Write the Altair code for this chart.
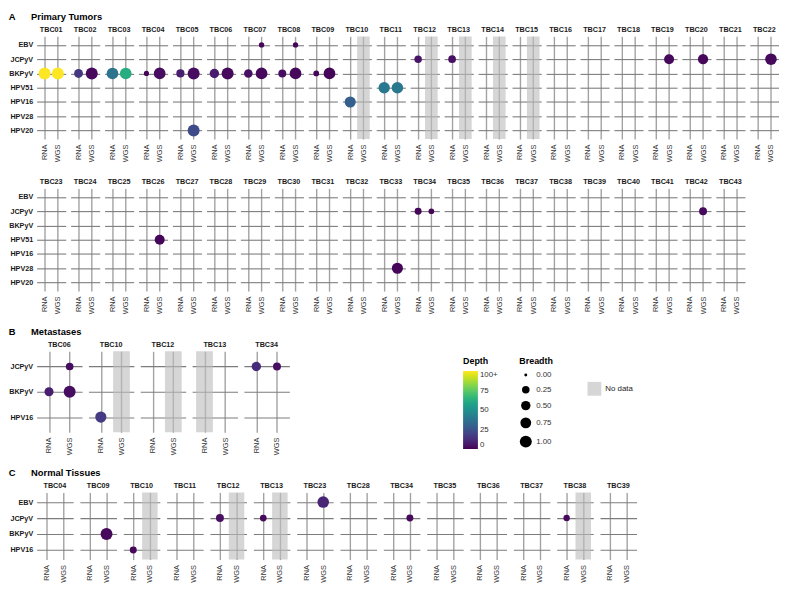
import altair as alt
import pandas as pd

FONT = "Liberation Sans"
NB = "\u00a0"

ASSAYS = ["RNA", "WGS"]
VIRUS_A = ["EBV", "JCPyV", "BKPyV", "HPV51", "HPV16", "HPV28", "HPV20"]
VIRUS_B = ["JCPyV", "BKPyV", "HPV16"]
VIRUS_C = ["EBV", "JCPyV", "BKPyV", "HPV16"]

PATIENTS_A1 = ["TBC01", "TBC02", "TBC03", "TBC04", "TBC05", "TBC06", "TBC07", "TBC08",
               "TBC09", "TBC10", "TBC11", "TBC12", "TBC13", "TBC14", "TBC15", "TBC16",
               "TBC17", "TBC18", "TBC19", "TBC20", "TBC21", "TBC22"]
PATIENTS_A2 = ["TBC23", "TBC24", "TBC25", "TBC26", "TBC27", "TBC28", "TBC29", "TBC30",
               "TBC31", "TBC32", "TBC33", "TBC34", "TBC35", "TBC36", "TBC37", "TBC38",
               "TBC39", "TBC40", "TBC41", "TBC42", "TBC43"]
PATIENTS_B = ["TBC06", "TBC10", "TBC12", "TBC13", "TBC34"]
PATIENTS_C = ["TBC04", "TBC09", "TBC10", "TBC11", "TBC12", "TBC13", "TBC23", "TBC28",
              "TBC34", "TBC35", "TBC36", "TBC37", "TBC38", "TBC39"]

# Section A: primary tumors
A_patient = ["TBC01", "TBC01", "TBC02", "TBC02", "TBC03", "TBC03", "TBC04", "TBC04",
             "TBC05", "TBC05", "TBC05", "TBC06", "TBC06", "TBC07", "TBC07", "TBC07",
             "TBC08", "TBC08", "TBC08", "TBC09", "TBC09", "TBC10", "TBC11", "TBC11",
             "TBC12", "TBC13", "TBC19", "TBC20", "TBC22", "TBC26", "TBC33", "TBC34",
             "TBC34", "TBC42"]
A_assay = ["RNA", "WGS", "RNA", "WGS", "RNA", "WGS", "RNA", "WGS",
           "RNA", "WGS", "WGS", "RNA", "WGS", "WGS", "RNA", "WGS",
           "WGS", "RNA", "WGS", "RNA", "WGS", "RNA", "RNA", "WGS",
           "RNA", "RNA", "WGS", "WGS", "WGS", "WGS", "WGS", "RNA",
           "WGS", "WGS"]
A_virus = ["BKPyV", "BKPyV", "BKPyV", "BKPyV", "BKPyV", "BKPyV", "BKPyV", "BKPyV",
           "BKPyV", "BKPyV", "HPV20", "BKPyV", "BKPyV", "EBV", "BKPyV", "BKPyV",
           "EBV", "BKPyV", "BKPyV", "BKPyV", "BKPyV", "HPV16", "HPV51", "HPV51",
           "JCPyV", "JCPyV", "JCPyV", "JCPyV", "JCPyV", "HPV51", "HPV28", "JCPyV",
           "JCPyV", "JCPyV"]
A_depth = [150, 150, 15, 2, 38, 62, 1, 3,
           8, 3, 22, 7, 2, 1, 4, 2,
           1, 3, 2, 1, 1, 30, 40, 40,
           5, 4, 2, 2, 2, 1, 1, 1,
           1, 2]
A_breadth = [1.0, 1.0, 0.42, 1.0, 0.92, 0.92, 0.07, 0.95,
             0.33, 1.0, 1.0, 0.5, 1.0, 0.08, 0.38, 0.95,
             0.08, 0.3, 0.95, 0.1, 0.95, 0.82, 0.87, 0.9,
             0.25, 0.27, 0.6, 0.65, 0.92, 0.6, 0.82, 0.2,
             0.1, 0.3]
A_nodata_patient = ["TBC10", "TBC12", "TBC13", "TBC14", "TBC15"]
A_nodata_assay = ["WGS", "WGS", "WGS", "WGS", "WGS"]

# Section B: metastases
B_patient = ["TBC06", "TBC06", "TBC06", "TBC10", "TBC34", "TBC34"]
B_assay = ["WGS", "RNA", "WGS", "RNA", "RNA", "WGS"]
B_virus = ["JCPyV", "BKPyV", "BKPyV", "HPV16", "JCPyV", "JCPyV"]
B_depth = [3, 8, 3, 17, 12, 3]
B_breadth = [0.27, 0.45, 1.0, 0.82, 0.5, 0.3]
B_nodata_patient = ["TBC10", "TBC12", "TBC13"]
B_nodata_assay = ["WGS", "WGS", "RNA"]

# Section C: normal tissues
C_patient = ["TBC09", "TBC10", "TBC12", "TBC13", "TBC23", "TBC34", "TBC38"]
C_assay = ["WGS", "RNA", "RNA", "RNA", "WGS", "WGS", "RNA"]
C_virus = ["BKPyV", "HPV16", "JCPyV", "JCPyV", "EBV", "JCPyV", "JCPyV"]
C_depth = [2, 2, 4, 2, 10, 2, 2]
C_breadth = [1.0, 0.2, 0.3, 0.18, 0.92, 0.2, 0.15]
C_nodata_patient = ["TBC10", "TBC12", "TBC13", "TBC38"]
C_nodata_assay = ["WGS", "WGS", "WGS", "WGS"]


def section(patients, viruses, pts, nds, w, h, spacing, tick_w, title=None):
    rows = [{"Patient": p, "kind": "blank"} for p in patients]
    for p, a, v, d, b in zip(*pts):
        if p in patients:
            rows.append({"Patient": p, "Assay": a, "Virus": v, "Depth": d,
                         "Breadth": b, "kind": "pt"})
    for p, a in zip(*nds):
        if p in patients:
            rows.append({"Patient": p, "Assay": a, "kind": "nd", "ND": "No data"})
    df = pd.DataFrame(rows)

    xenc = alt.X("Assay:N",
                 scale=alt.Scale(domain=ASSAYS, type="point", padding=0.6),
                 axis=alt.Axis(title=None, labelAngle=270, labelPadding=5,
                               labelFontSize=7.5, labelColor="#333333", labelFont=FONT,
                               ticks=False, domain=False, grid=True,
                               gridColor="#a2a2a2", gridWidth=1.4))
    yenc = alt.Y("Virus:N",
                 scale=alt.Scale(domain=viruses, type="point", padding=0.6),
                 axis=alt.Axis(title=None, labelPadding=4, labelFontSize=7.3,
                               labelFontWeight="bold", labelColor="#1a1a1a",
                               labelFont=FONT, ticks=False, domain=False, grid=True,
                               gridColor="#7c7c7c", gridWidth=1.1))

    nd = alt.Chart().transform_filter("datum.kind == 'nd'").mark_tick(
        orient="vertical", thickness=tick_w, size=h, color="#bdbdbd"
    ).encode(
        x=xenc,
        opacity=alt.Opacity("ND:N",
                            scale=alt.Scale(domain=["No data"], range=[0.62, 0.62]),
                            legend=alt.Legend(title=None, orient="none", legendX=558,
                                              legendY=350, symbolType="square",
                                              symbolSize=196, symbolStrokeWidth=0,
                                              symbolFillColor="#bdbdbd",
                                              labelFontSize=8, labelFont=FONT,
                                              labelColor="#222222")),
    )
    pt = alt.Chart().transform_filter("datum.kind == 'pt'").mark_circle(
        opacity=1, color="black"
    ).encode(
        x=xenc,
        y=yenc,
        color=alt.Color("Depth:Q",
                        scale=alt.Scale(scheme="viridis", domain=[0, 100], clamp=True),
                        legend=alt.Legend(title="Depth", orient="none", legendX=432,
                                          legendY=325, direction="vertical",
                                          gradientLength=79, gradientThickness=15,
                                          values=[0, 25, 50, 75, 100],
                                          labelExpr="datum.value >= 100 ? '100+' : datum.label",
                                          titleFontSize=9, titleFont=FONT,
                                          labelFontSize=8, labelFont=FONT,
                                          labelColor="#333333")),
        size=alt.Size("Breadth:Q",
                      scale=alt.Scale(type="pow", exponent=0.75, domain=[0, 1],
                                      range=[8.6, 147]),
                      legend=alt.Legend(title="Breadth", orient="none", legendX=489,
                                        legendY=325, values=[0, 0.25, 0.5, 0.75, 1],
                                        format=".2f", symbolFillColor="black",
                                        symbolStrokeWidth=0, titleFontSize=9,
                                        titleFont=FONT, labelFontSize=8,
                                        labelFont=FONT, labelColor="#333333",
                                        rowPadding=7)),
    )
    ch = alt.layer(nd, pt, data=df).properties(width=w, height=h).facet(
        column=alt.Column("Patient:N", sort=patients, title=None,
                          header=alt.Header(labelFontSize=7.3, labelFontWeight="bold",
                                            labelFont=FONT, labelColor="#1a1a1a",
                                            labelPadding=3)),
        spacing=spacing,
    )
    if title is not None:
        ch = ch.properties(title=alt.TitleParams(
            text=title, anchor="start", frame="bounds", fontSize=9.5,
            fontWeight="bold", font=FONT, color="black", offset=5))
    return ch


ptsA = (A_patient, A_assay, A_virus, A_depth, A_breadth)
ndA = (A_nodata_patient, A_nodata_assay)
ptsB = (B_patient, B_assay, B_virus, B_depth, B_breadth)
ndB = (B_nodata_patient, B_nodata_assay)
ptsC = (C_patient, C_assay, C_virus, C_depth, C_breadth)
ndC = (C_nodata_patient, C_nodata_assay)

rowA1 = section(PATIENTS_A1, VIRUS_A, ptsA, ndA, 29.5, 104, 4.4, 12.8,
                title="A" + NB * 6 + "Primary Tumors")
rowA2 = section(PATIENTS_A2, VIRUS_A, ptsA, ndA, 29.5, 104, 4.4, 12.8)
secB = section(PATIENTS_B, VIRUS_B, ptsB, ndB, 46, 82, 6.5, 17,
               title="B" + NB * 6 + "Metastases")
secC = section(PATIENTS_C, VIRUS_C, ptsC, ndC, 37, 68, 6.9, 15.7,
               title="C" + NB * 6 + "Normal Tissues")

blockA = alt.vconcat(rowA1, rowA2, spacing=16).resolve_scale(x="independent", y="independent")

chart = alt.vconcat(blockA, secB, secC, spacing=13).resolve_scale(
    x="independent", y="independent"
).properties(
    padding={"top": 0, "left": 0, "right": 0, "bottom": 0}
).configure(background="white").configure_view(stroke="transparent", strokeWidth=0)

chart.save("out.html", embed_options={"renderer": "svg", "actions": False})
